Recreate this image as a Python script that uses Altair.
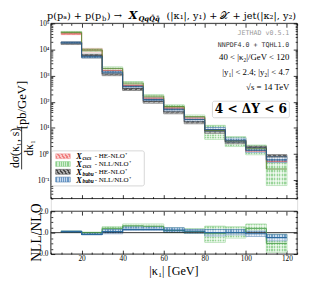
import altair as alt
import pandas as pd

# ---------------- data ----------------
bin_lo = [10, 20, 30, 40, 50, 60, 70, 80, 90, 100, 110]
bin_hi = [20, 30, 40, 50, 60, 70, 80, 90, 100, 110, 120]

# upper panel: d sigma / d kappa1 [pb/GeV]
cscs_he_lo = [3.7e4, 8.0e3, 1.4e3, 380, 125, 51, 21, 7.4, 2.9, 1.2, 0.45]
cscs_he_hi = [4.8e4, 1.1e4, 1.8e3, 500, 155, 66, 27, 9.8, 3.8, 1.45, 0.63]
cscs_he_c = [4.2e4, 9.5e3, 1.6e3, 430, 138, 58, 24, 8.5, 3.3, 1.3, 0.53]

cscs_nll_lo = [4.2e4, 8.5e3, 1.6e3, 460, 148, 59, 24, 3.7, 1.95, 0.95, 0.063]
cscs_nll_hi = [4.9e4, 1.05e4, 2.15e3, 590, 185, 76, 31, 12.6, 4.6, 2.2, 0.48]
cscs_nll_c = [4.5e4, 9.5e3, 1.9e3, 520, 165, 66, 27, 8.0, 3.2, 1.6, 0.27]

bubu_he_lo = [1.55e4, 4.8e3, 1.0e3, 270, 89, 35, 14.5, 6.3, 2.5, 1.5, 0.63]
bubu_he_hi = [1.95e4, 6.6e3, 1.3e3, 355, 116, 47, 20, 8.9, 3.4, 2.0, 0.95]
bubu_he_c = [1.75e4, 5.8e3, 1.15e3, 320, 103, 41, 17, 7.6, 2.9, 1.75, 0.78]

bubu_nll_lo = [1.7e4, 4.8e3, 1.23e3, 340, 110, 44, 18.4, 7.4, 2.9, 1.15, 0.48]
bubu_nll_hi = [1.95e4, 5.8e3, 1.5e3, 420, 137, 56, 24, 10.5, 4.1, 1.75, 0.81]
bubu_nll_c = [1.8e4, 5.3e3, 1.35e3, 380, 122, 50, 21, 8.7, 3.4, 1.4, 0.6]

# lower panel: NLL/NLO ratios
cscs_r_lo = [1.02, 0.95, 1.1, 1.2, 1.2, 1.0, 0.97, 0.55, 0.75, 0.95, 0.09]
cscs_r_hi = [1.08, 1.02, 1.27, 1.4, 1.4, 1.22, 1.18, 1.3, 1.27, 1.4, 0.92]
cscs_r_c = [1.05, 1.0, 1.2, 1.32, 1.3, 1.1, 1.05, 0.95, 1.0, 1.2, 0.5]

bubu_r_lo = [1.02, 0.9, 0.95, 1.1, 1.1, 1.03, 0.97, 0.85, 0.9, 0.82, 0.62]
bubu_r_hi = [1.08, 1.0, 1.15, 1.27, 1.27, 1.23, 1.15, 1.15, 1.15, 1.07, 0.92]
bubu_r_c = [1.05, 0.92, 1.05, 1.15, 1.15, 1.12, 1.07, 1.0, 1.0, 0.95, 0.77]

legend_sub = ["cscs", "cscs", "bubu", "bubu"]
legend_rest = [" - HE-NLO\u207a", " - NLL/NLO\u207a", " - HE-NLO\u207a", " - NLL/NLO\u207a"]

x_major = [20, 40, 60, 80, 100, 120]
x_minor = [v for v in range(5, 126, 5) if v % 20 != 0]
y1_major = [0.1, 1, 10, 100, 1000, 10000, 100000]
y1_minor = [k * 10.0 ** d for d in range(-2, 5) for k in range(2, 10) if 0.02 <= k * 10.0 ** d <= 1e5]
y2_major = [0, 1, 2]
y2_minor = [0.25, 0.5, 0.75, 1.25, 1.5, 1.75]

# ---------------- layout / styling ----------------
SERIF = "Liberation Serif"
TSERIF = "DejaVu Serif"
MONO = "DejaVu Sans Mono"
W = 253          # plot width
H = 237          # from top of upper panel to bottom of lower panel
U_BOT = 180      # bottom of upper panel
L_TOP = 193      # top of lower panel

xs = alt.Scale(domain=[5, 125], nice=False, zero=False)
ys1 = alt.Scale(type="log", domain=[0.02, 1e5], range=[U_BOT, 0], nice=False)
ys2 = alt.Scale(domain=[0, 2], range=[H, L_TOP], nice=False, zero=False)


def stripes(c1, c2, n=8, direction="h"):
    stops = []
    for i in range(n):
        a, b, e = i / n, (i + 0.5) / n, (i + 1) / n
        stops += [alt.GradientStop(offset=a, color=c1), alt.GradientStop(offset=b, color=c1),
                  alt.GradientStop(offset=b, color=c2), alt.GradientStop(offset=e, color=c2)]
    if direction == "d":
        return alt.LinearGradient(gradient="linear", stops=stops, x1=0, x2=1, y1=0, y2=1)
    if direction == "v":
        return alt.LinearGradient(gradient="linear", stops=stops, x1=0, x2=0, y1=0, y2=1)
    return alt.LinearGradient(gradient="linear", stops=stops, x1=0, x2=1, y1=0, y2=0)


RED = dict(fill=stripes("#f07e7e", "#f9c9c9", 8, "d"), stroke="#f2a3a3",
           over=stripes("rgba(255,255,255,0)", "rgba(220,40,40,0.35)", 6, "v"))
GREEN = dict(fill=stripes("#8fd08f", "#d2eed2", 8), stroke="#8fd08f",
             over=stripes("rgba(255,255,255,0)", "rgba(255,255,255,0.55)", 6, "v"))
BLACK = dict(fill=stripes("#4a4a4a", "#a8a8a8", 8, "d"), stroke="#555555",
             over=stripes("rgba(255,255,255,0)", "rgba(255,255,255,0.35)", 6, "v"))
BLUE = dict(fill=stripes("#6a98c6", "#c8daee", 8), stroke="#4f80b0",
            over=stripes("rgba(255,255,255,0)", "rgba(255,255,255,0.5)", 6, "v"))


def ax(orient, values, size, off=0, labels=False, **kw):
    return alt.Axis(orient=orient, values=values, tickSize=size, offset=-(size + off), labels=labels,
                    domain=False, grid=False, ticks=True, tickColor="black", tickWidth=0.8,
                    labelFont=SERIF, labelFontSize=7.5, labelColor="black", **kw)


def band(lo, hi, style, yscale, xaxis=None, yaxis=None):
    df = pd.DataFrame({"x": bin_lo, "x2": bin_hi, "lo": lo, "hi": hi})
    base = alt.Chart(df).mark_rect(fill=style["fill"], stroke=style["stroke"], strokeWidth=0.8,
                                   opacity=0.9).encode(
        x=alt.X("x:Q", scale=xs, axis=xaxis, title=None), x2="x2",
        y=alt.Y("lo:Q", scale=yscale, axis=yaxis, title=None), y2="hi")
    over = alt.Chart(df).mark_rect(fill=style["over"]).encode(
        x=alt.X("x:Q", scale=xs, axis=None), x2="x2",
        y=alt.Y("lo:Q", scale=yscale, axis=None), y2="hi")
    return [base, over]


def step(c, color, yscale, sw=1.0, xaxis=None, yaxis=None):
    df = pd.DataFrame({"x": bin_lo + [bin_hi[-1]], "y": c + [c[-1]]})
    return alt.Chart(df).mark_line(interpolate="step-after", color=color, strokeWidth=sw).encode(
        x=alt.X("x:Q", scale=xs, axis=xaxis, title=None),
        y=alt.Y("y:Q", scale=yscale, axis=yaxis, title=None))


one = pd.DataFrame({"a": [0]})


def txt(text, x, y, size, font=SERIF, color="black", align="left", weight="normal",
        style="normal", angle=0, baseline="middle"):
    kw = dict(text=text, fontSize=size, font=font, color=color, align=align, fontWeight=weight,
              fontStyle=style, baseline=baseline)
    if angle:
        kw["angle"] = angle
    return alt.Chart(one).mark_text(**kw).encode(x=alt.value(x), y=alt.value(y))


def box(x1, x2, y1, y2, fill="white", stroke="#cccccc", sw=0.8, r=2):
    return alt.Chart(one).mark_rect(fill=fill, stroke=stroke, strokeWidth=sw, cornerRadius=r).encode(
        x=alt.value(x1), x2=alt.value(x2), y=alt.value(y1), y2=alt.value(y2))


ylab = "'10' + ['\u207b\u00b2','\u207b\u00b9','\u2070','\u00b9','\u00b2','\u00b3','\u2074','\u2075'][round(log(datum.value)/LN10)+2]"

layers = []

# ---------------- upper panel ----------------
layers += band(cscs_he_lo, cscs_he_hi, RED, ys1,
               ax("top", x_major, 4), ax("left", y1_major, 4, 0, True, labelExpr=ylab, labelPadding=2))
layers += band(cscs_nll_lo, cscs_nll_hi, GREEN, ys1, ax("bottom", x_major, 4, H - U_BOT), ax("right", y1_major, 4))
layers += band(bubu_he_lo, bubu_he_hi, BLACK, ys1, ax("top", x_minor, 2), ax("left", y1_minor, 2))
layers += band(bubu_nll_lo, bubu_nll_hi, BLUE, ys1, ax("bottom", x_minor, 2, H - U_BOT), ax("right", y1_minor, 2))
layers += [
    step(cscs_he_c, "#d85050", ys1, 0.8),
    step(cscs_nll_c, "#5e8f3a", ys1, 1.0),
    step(bubu_he_c, "#404040", ys1, 0.8),
    step(bubu_nll_c, "#2b5d8a", ys1, 1.0),
]

# title (segments, to render subscripts)
ty = -7
layers += [
    txt("p(p\u2090) + p(p", -4, ty, 10, font=TSERIF),
    txt("b", 52.5, ty + 3, 7, font=TSERIF),
    txt(") \u2192", 57.5, ty, 10, font=TSERIF),
    txt("X", 80, ty, 11.5, font=TSERIF, weight="bold", style="italic"),
    txt("QqQ\u0304q\u0304", 90, ty + 3, 7, font=TSERIF, weight="bold", style="italic"),
    txt("(|\u03ba\u2081|, y\u2081) + \ud835\udcb3 + jet(|\u03ba\u2082|, y\u2082)", 252, ty, 10,
        font=TSERIF, align="right"),
]

# y-axis title as a fraction
layers += [
    txt("[pb/GeV]", -30, 84, 13, angle=270, align="center"),
    txt("d\u03c3(\u03ba\u2081, s)", -37, 128, 12, angle=270, align="center"),
    alt.Chart(one).mark_rule(color="black", strokeWidth=0.8).encode(
        x=alt.value(-30), y=alt.value(106), y2=alt.value(150)),
    txt("d\u03ba\u2081", -22, 128, 12, angle=270, align="center"),
]

# annotations
RX = 245
layers += [
    txt("JETHAD v0.5.1", RX, 10, 6.8, font=MONO, color="#9a9a9a", align="right"),
    txt("NNPDF4.0 + TQHL1.0", RX, 22.5, 6.8, font=MONO, color="#333333", align="right"),
    txt("40 < |\u03ba\u2082|/GeV < 120", RX, 34.5, 9, align="right"),
    txt("|y\u2081| < 2.4;  |y\u2082| < 4.7", RX, 50, 9, align="right"),
    txt("\u221as = 14 TeV", RX, 65, 9, align="right"),
    box(166, 245, 80, 97),
    txt("4 < \u0394Y < 6", 205.5, 88.5, 12.5, font=TSERIF, weight="bold", align="center"),
]

# legend
layers.append(box(0.5, 96, 131, 167))
for i, st in enumerate([RED, GREEN, BLACK, BLUE]):
    yy = 136.5 + 8 * i
    layers += [
        alt.Chart(one).mark_rect(fill=st["fill"], stroke=st["stroke"], strokeWidth=0.6).encode(
            x=alt.value(5), x2=alt.value(20), y=alt.value(yy - 2.5), y2=alt.value(yy + 2.5)),
        txt("X", 26, yy, 8.5, weight="bold", style="italic"),
        txt(legend_sub[i], 32.5, yy + 2, 5.5, weight="bold", style="italic"),
        txt(legend_rest[i], 45, yy, 7.2),
    ]

# ---------------- lower panel ----------------
layers += band(cscs_r_lo, cscs_r_hi, GREEN, ys2,
               ax("bottom", x_major, 4, 0, True, labelPadding=1),
               ax("left", y2_major, 4, 0, True, labelPadding=3))
layers += band(bubu_r_lo, bubu_r_hi, BLUE, ys2, ax("top", x_major, 4, L_TOP), ax("right", y2_major, 4))
layers += [
    alt.Chart(pd.DataFrame({"y": [1]})).mark_rule(color="black", strokeWidth=0.8).encode(
        y=alt.Y("y:Q", scale=ys2, axis=None)),
    step(cscs_r_c, "#4f9f4f", ys2, 1.0, ax("bottom", x_minor, 2), ax("left", y2_minor, 2)),
    step(bubu_r_c, "#2b6a9e", ys2, 1.2, ax("top", x_minor, 2, L_TOP), ax("right", y2_minor, 2)),
    txt("NLL/NLO", -14, (L_TOP + H) / 2, 14, angle=270, align="center"),
    txt("|\u03ba\u2081| [GeV]", W / 2, 254, 12.5, align="center"),
]

# panel frames
layers += [
    box(0, W, 0, U_BOT, fill="transparent", stroke="black", sw=0.8, r=0),
    box(0, W, L_TOP, H, fill="transparent", stroke="black", sw=0.8, r=0),
]

chart = alt.layer(*layers).resolve_scale(y="independent").resolve_axis(
    x="independent", y="independent").properties(
    width=W, height=H,
    autosize=alt.AutoSizeParams(type="none"),
    padding={"left": 44, "top": 12, "right": 5, "bottom": 27},
).configure_view(stroke=None).configure(background="white")

chart.save("out.html", embed_options={"renderer": "svg", "actions": False})
